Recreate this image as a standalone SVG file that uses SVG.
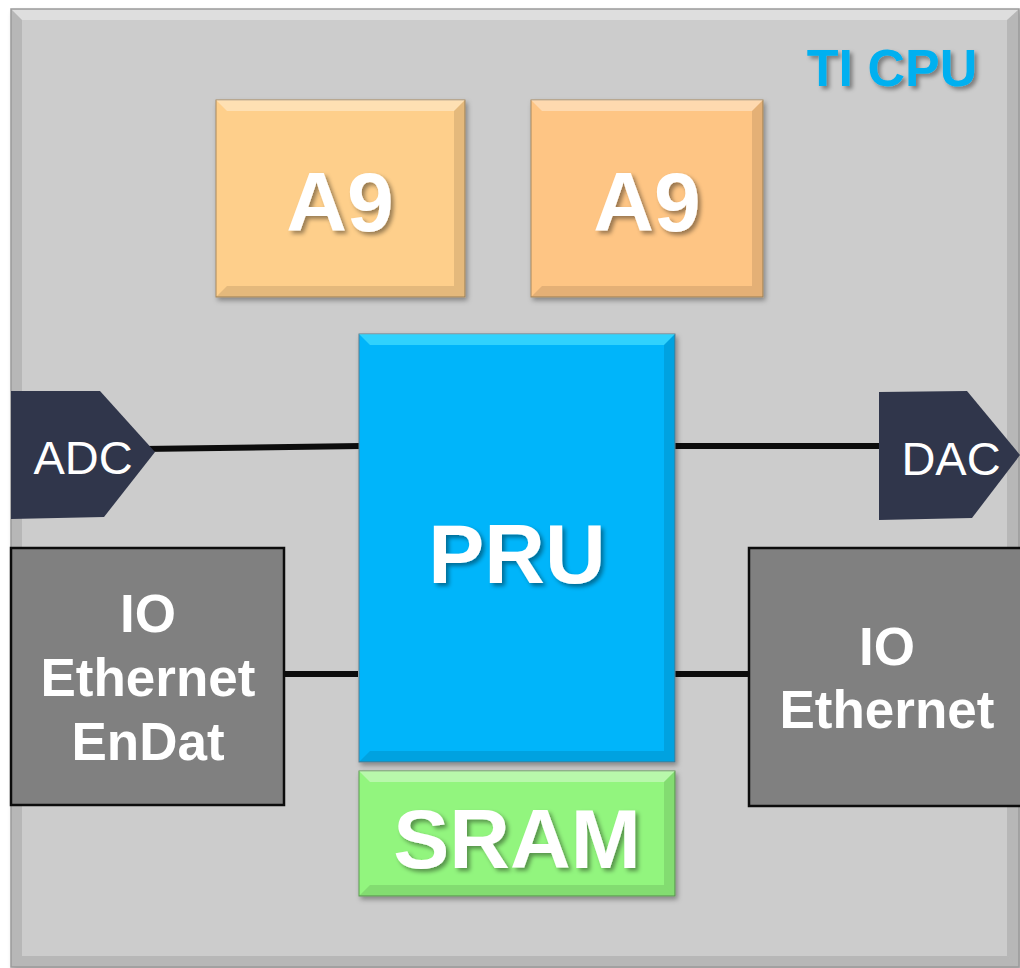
<svg xmlns="http://www.w3.org/2000/svg" width="1020" height="968" viewBox="0 0 1020 968">
<defs>
<filter id="ts" x="-10%" y="-10%" width="130%" height="140%"><feDropShadow dx="3" dy="3" stdDeviation="2" flood-color="#000" flood-opacity="0.4"/></filter>
<filter id="bs" x="-5%" y="-5%" width="115%" height="115%"><feDropShadow dx="2" dy="3" stdDeviation="2.5" flood-color="#000" flood-opacity="0.35"/></filter>
</defs>
<style>
.big{font-family:"Liberation Sans",Arial,sans-serif;font-weight:bold;font-size:84px;fill:#fff;text-anchor:middle}
.io{font-family:"Liberation Sans",Arial,sans-serif;font-weight:bold;font-size:53px;fill:#fff;text-anchor:middle}
.port{font-family:"Liberation Sans",Arial,sans-serif;font-size:47px;fill:#fff;text-anchor:middle}
.hl{fill:#fff;opacity:0.35}
.sh{fill:#000;opacity:0.1}
.conn{stroke:#0c0c0c;stroke-width:6;fill:none}
.iobox{fill:#808080;stroke:#0c0c0c;stroke-width:2.5}
.pent{fill:#30364b}
</style>
<rect width="1020" height="968" fill="#fff"/>
<g id="cpu">
<rect x="11" y="9" width="1008" height="958" fill="#cccccc" filter="url(#bs)"/>
<polygon class="hl" points="11,9 1019,9 1007,20 22,20"/>
<polygon class="sh" points="11,9 22,20 22,956 11,967"/>
<polygon class="sh" points="1019,9 1019,967 1007,956 1007,20"/>
<polygon class="sh" points="11,967 1019,967 1007,956 22,956"/>
<rect x="11" y="9" width="1008" height="958" fill="none" stroke="#9a9a9a" stroke-width="1.5"/>
<text x="892" y="86" font-family="Liberation Sans, Arial, sans-serif" font-weight="bold" font-size="52" fill="#00b0f0" text-anchor="middle" filter="url(#ts)">TI CPU</text>
</g>
<g id="conns">
<line class="conn" x1="143" y1="449" x2="361" y2="446"/>
<line class="conn" x1="675" y1="446" x2="887" y2="446"/>
<line class="conn" x1="284" y1="674" x2="358" y2="674"/>
<line class="conn" x1="675" y1="674" x2="750" y2="674"/>
</g>
<g id="a9_1">
<rect x="216" y="100" width="249" height="197" fill="#fecf8b" stroke="#a88a5e" stroke-width="1" filter="url(#bs)"/>
<polygon class="hl" points="216,100 465,100 454,111 227,111"/>
<polygon class="sh" points="465,100 465,297 454,286 454,111"/>
<polygon class="sh" points="216,297 465,297 454,286 227,286"/>
<text class="big" x="340" y="231" filter="url(#ts)">A9</text>
</g>
<g id="a9_2">
<rect x="531" y="100" width="232" height="197" fill="#fec584" stroke="#a88a5e" stroke-width="1" filter="url(#bs)"/>
<polygon class="hl" points="531,100 763,100 752,111 542,111"/>
<polygon class="sh" points="763,100 763,297 752,286 752,111"/>
<polygon class="sh" points="531,297 763,297 752,286 542,286"/>
<text class="big" x="647" y="231" filter="url(#ts)">A9</text>
</g>
<g id="pru">
<rect x="359" y="334" width="316" height="428" fill="#05b5fa" stroke="#5a7f90" stroke-width="1" filter="url(#bs)"/>
<polygon fill="#5ff0ff" opacity="0.5" points="359,334 675,334 664,345 370,345"/>
<polygon class="sh" points="675,334 675,762 664,751 664,345"/>
<polygon class="sh" points="359,762 675,762 664,751 370,751"/>
<text class="big" x="517" y="583" filter="url(#ts)">PRU</text>
</g>
<g id="sram">
<rect x="359" y="771" width="316" height="125" fill="#92f57e" stroke="#5f9a55" stroke-width="1" filter="url(#bs)"/>
<polygon class="hl" points="359,771 675,771 664,782 370,782"/>
<polygon class="sh" points="675,771 675,896 664,885 664,782"/>
<polygon class="sh" points="359,896 675,896 664,885 370,885"/>
<text class="big" x="517" y="868" filter="url(#ts)">SRAM</text>
</g>
<g id="adc">
<polygon class="pent" points="11,391 100,391 155,452 104,517 11,519"/>
<text class="port" x="83" y="474">ADC</text>
</g>
<g id="dac">
<polygon class="pent" points="879,392 967,391 1020,455 972,518 879,520"/>
<text class="port" x="951" y="475">DAC</text>
</g>
<g id="io_left">
<rect class="iobox" x="11" y="548" width="273" height="257"/>
<text class="io" x="148" y="632">IO</text>
<text class="io" x="148" y="696">Ethernet</text>
<text class="io" x="148" y="760">EnDat</text>
</g>
<g id="io_right">
<rect class="iobox" x="749" y="548" width="280" height="258"/>
<text class="io" x="887" y="665">IO</text>
<text class="io" x="887" y="728">Ethernet</text>
</g>
</svg>
